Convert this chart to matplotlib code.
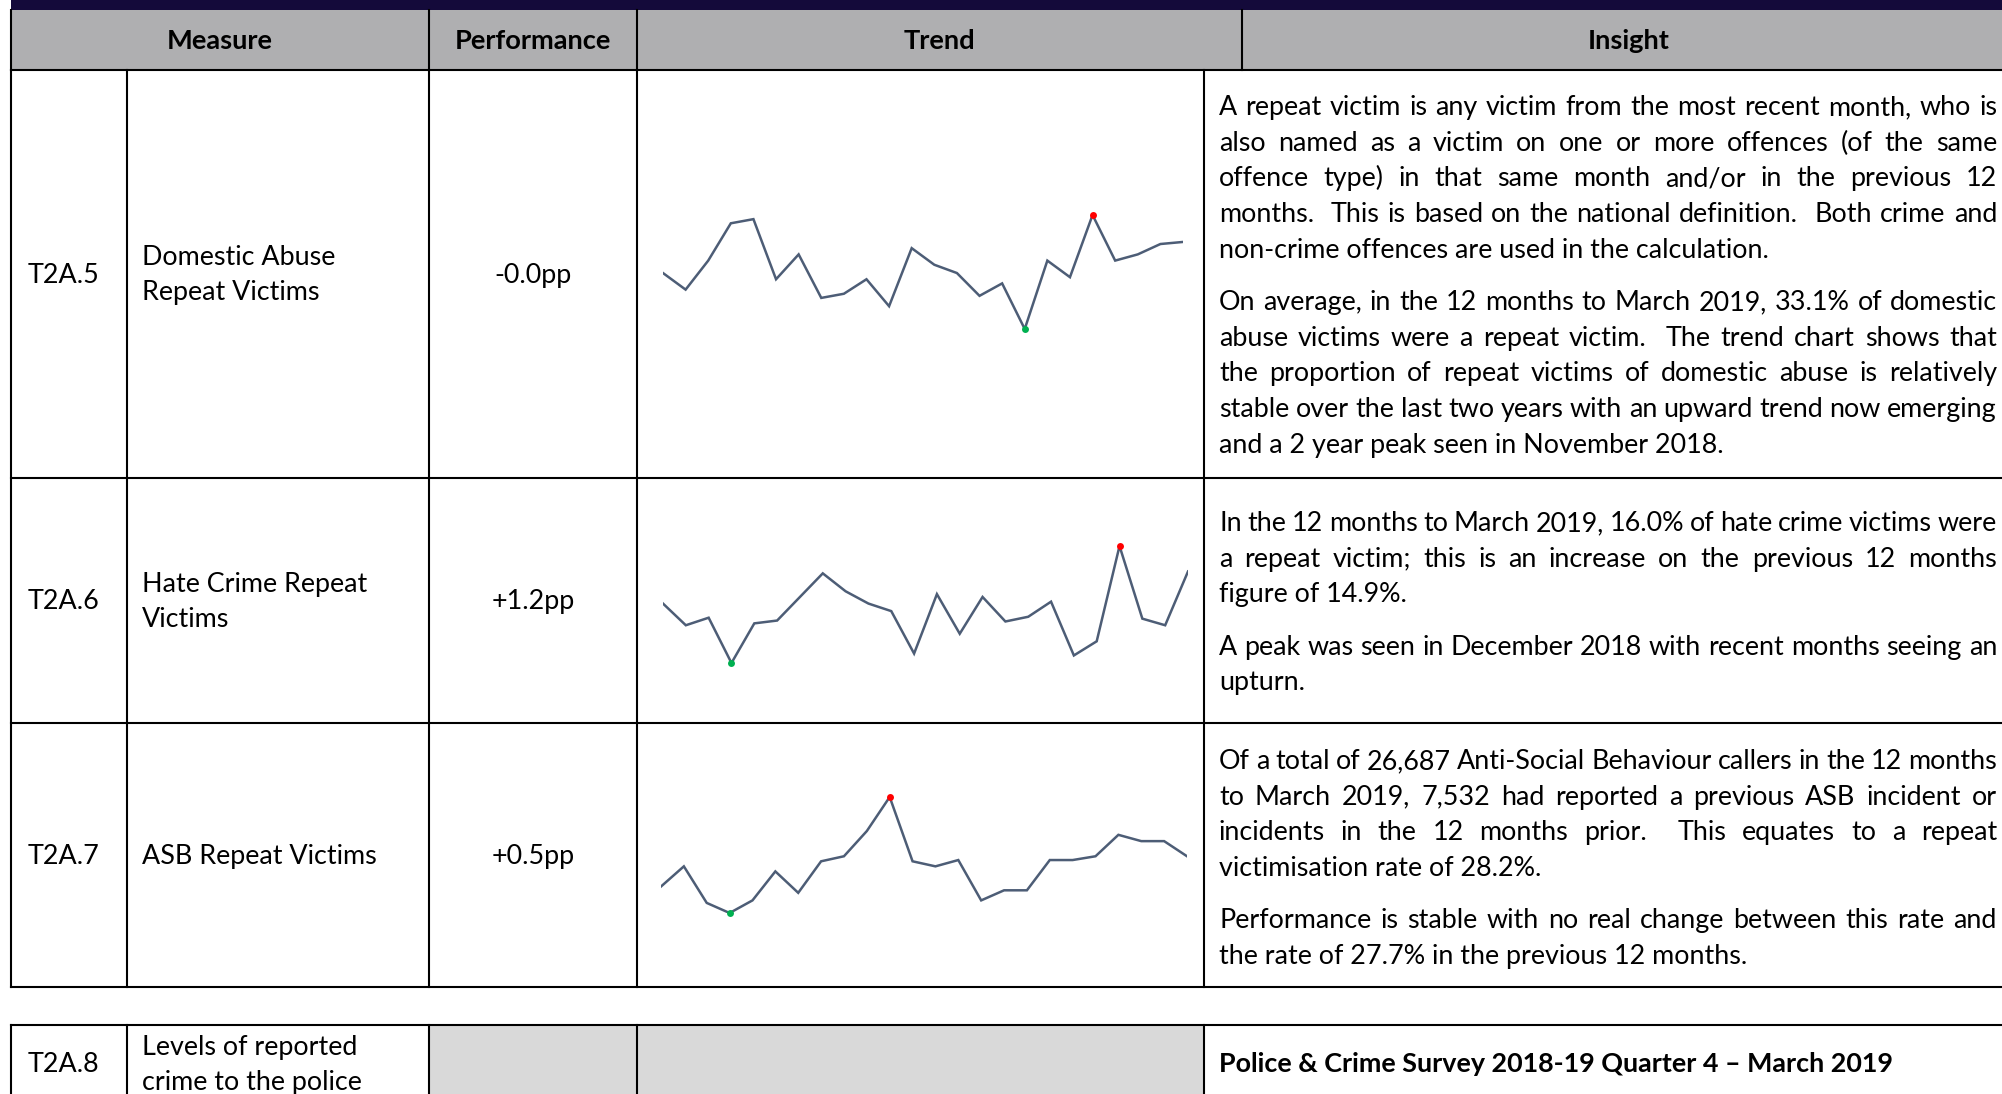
import matplotlib
matplotlib.use('Agg')
import matplotlib.pyplot as plt
from matplotlib.patches import Rectangle

W, H = 2002, 1094

# ---- table content ----
headers = ['Measure', 'Performance', 'Trend', 'Insight']
codes = ['T2A.5', 'T2A.6', 'T2A.7', 'T2A.8']
names = [['Domestic Abuse', 'Repeat Victims'],
         ['Hate Crime Repeat', 'Victims'],
         ['ASB Repeat Victims'],
         ['Levels of reported', 'crime to the police']]
performance = ['-0.0pp', '+1.2pp', '+0.5pp']

# monthly repeat victim rates (%), 24 months to March 2019
domestic_abuse = [33.2, 32.4, 33.8, 35.6, 35.8, 32.9, 34.1, 32.0, 32.2, 32.9, 31.6, 34.4,
                  33.6, 33.2, 32.1, 32.7, 30.5, 33.8, 33.0, 36.0, 33.8, 34.1, 34.6, 34.7]
hate_crime = [16.7, 14.4, 15.2, 10.4, 14.6, 14.9, 17.4, 19.9, 18.0, 16.7, 15.9, 11.4,
              17.7, 13.5, 17.4, 14.8, 15.3, 16.9, 11.2, 12.7, 22.8, 15.1, 14.4, 20.1]
asb_repeat = [26.4, 28.0, 25.1, 24.3, 25.3, 27.6, 25.9, 28.4, 28.8, 30.8, 33.5, 28.4,
              28.0, 28.5, 25.3, 26.1, 26.1, 28.5, 28.5, 28.8, 30.5, 30.0, 30.0, 28.8]

insight_da = [
    ['A repeat victim is any victim from the most recent month, who is',
     'also named as a victim on one or more offences (of the same',
     'offence type) in that same month and/or in the previous 12',
     'months.  This is based on the national definition.  Both crime and',
     'non-crime offences are used in the calculation.'],
    ['On average, in the 12 months to March 2019, 33.1% of domestic',
     'abuse victims were a repeat victim.  The trend chart shows that',
     'the proportion of repeat victims of domestic abuse is relatively',
     'stable over the last two years with an upward trend now emerging',
     'and a 2 year peak seen in November 2018.'],
]
insight_hc = [
    ['In the 12 months to March 2019, 16.0% of hate crime victims were',
     'a repeat victim; this is an increase on the previous 12 months',
     'figure of 14.9%.'],
    ['A peak was seen in December 2018 with recent months seeing an',
     'upturn.'],
]
insight_asb = [
    ['Of a total of 26,687 Anti-Social Behaviour callers in the 12 months',
     'to March 2019, 7,532 had reported a previous ASB incident or',
     'incidents in the 12 months prior.  This equates to a repeat',
     'victimisation rate of 28.2%.'],
    ['Performance is stable with no real change between this rate and',
     'the rate of 27.7% in the previous 12 months.'],
]
survey_title = 'Police & Crime Survey 2018-19 Quarter 4 \u2013 March 2019'

# ---- layout (pixels) ----
col_x = [11, 127, 429, 637, 1204, 2016]
head_split = 1242
head_top, head_bot = 10, 69.5
row_y = [69.5, 478, 723, 987]
row4_top = 1025
text_x0, text_x1 = 1219, 1997
line_h = 35.7
para_gap = 16.6
para_top = [106, 522, 760]

navy = '#140a3a'
head_grey = '#afafb1'
cell_grey = '#d9d9d9'
spark_col = '#4d5d76'
FONT = ['Lato', 'DejaVu Sans']
LW = 1.5

fig = plt.figure(figsize=(W / 100, H / 100), dpi=100)
ax = fig.add_axes([0, 0, 1, 1])
ax.set_xlim(0, W)
ax.set_ylim(H, 0)
ax.axis('off')
renderer = fig.canvas.get_renderer()


def text_width(s, size, weight='normal'):
    if not s:
        return 0.0
    t = ax.text(0, 0, s, fontsize=size, family=FONT, fontweight=weight)
    w = t.get_window_extent(renderer=renderer).width
    t.remove()
    return w


def fit_size(s, target, weight='normal'):
    return 20 * target / text_width(s, 20, weight)


body = fit_size('non-crime offences are used in the calculation.', 553)
head = fit_size('Performance', 157, 'bold')
em = body * 100 / 72


def put(x, yc, s, ha='left', weight='normal', size=None):
    size = size or body
    ax.text(x, yc + 0.33 * em, s, fontsize=size, family=FONT, fontweight=weight,
            ha=ha, va='baseline', color='black')


def justified(line, y):
    words = line.split(' ')
    widths = [text_width(w, body) for w in words]
    gap = (text_x1 - text_x0 - sum(widths)) / (len(words) - 1)
    x = text_x0
    for w, wd in zip(words, widths):
        if w:
            put(x, y, w)
        x += wd + gap


def paragraphs(paras, y):
    for para in paras:
        for i, line in enumerate(para):
            if i == len(para) - 1:
                put(text_x0, y, line)
            else:
                justified(line, y)
            y += line_h
        y += para_gap


# ---- grid ----
ax.add_patch(Rectangle((col_x[0], 0), W - col_x[0], head_top, color=navy, lw=0))
ax.add_patch(Rectangle((col_x[0], head_top), col_x[-1] - col_x[0], head_bot - head_top,
                       color=head_grey, lw=0))
for x in [col_x[0], col_x[2], col_x[3], head_split]:
    ax.plot([x, x], [head_top, head_bot], color='black', lw=LW)
for y in row_y:
    ax.plot([col_x[0], W], [y, y], color='black', lw=LW)
for x in col_x[:5]:
    ax.plot([x, x], [row_y[0], row_y[-1]], color='black', lw=LW)

ax.add_patch(Rectangle((col_x[2], row4_top), col_x[4] - col_x[2], H - row4_top,
                       color=cell_grey, lw=0))
ax.plot([col_x[0], W], [row4_top, row4_top], color='black', lw=LW)
for x in col_x[:5]:
    ax.plot([x, x], [row4_top, H], color='black', lw=LW)

# ---- header ----
head_cx = [(col_x[0] + col_x[2]) / 2, (col_x[2] + col_x[3]) / 2,
           (col_x[3] + head_split) / 2, (head_split + col_x[-1]) / 2]
for cx, label in zip(head_cx, headers):
    put(cx, 40, label, ha='center', weight='bold', size=head)

# ---- measure / performance columns ----
row_mid = [(row_y[i] + row_y[i + 1]) / 2 for i in range(3)] + [1063.6]
for i in range(4):
    put(28, row_mid[i], codes[i])
    n = len(names[i])
    for j, nm in enumerate(names[i]):
        put(142, row_mid[i] + (j - (n - 1) / 2) * line_h, nm)
    if i < 3:
        put((col_x[2] + col_x[3]) / 2, row_mid[i], performance[i], ha='center')

# ---- insights ----
for paras, y in zip([insight_da, insight_hc, insight_asb], para_top):
    paragraphs(paras, y)
put(text_x0, 1063.6, survey_title, weight='bold')

# ---- sparklines ----
spark_boxes = [(663, 1183, 215, 329), (663, 1188, 546, 663), (661, 1187, 797, 913)]
for series, (x0, x1, ytop, ybot) in zip([domestic_abuse, hate_crime, asb_repeat], spark_boxes):
    sax = fig.add_axes([x0 / W, 1 - ybot / H, (x1 - x0) / W, (ybot - ytop) / H])
    sax.axis('off')
    idx = list(range(len(series)))
    sax.plot(idx, series, color=spark_col, lw=1.8, solid_joinstyle='miter')
    sax.set_xlim(0, len(series) - 1)
    sax.set_ylim(min(series), max(series))
    hi = series.index(max(series))
    lo = series.index(min(series))
    sax.plot(hi, series[hi], 'o', color='#ff0000', ms=5, clip_on=False, mew=0)
    sax.plot(lo, series[lo], 'o', color='#00b050', ms=5, clip_on=False, mew=0)

fig.savefig('out.png', dpi=100)
